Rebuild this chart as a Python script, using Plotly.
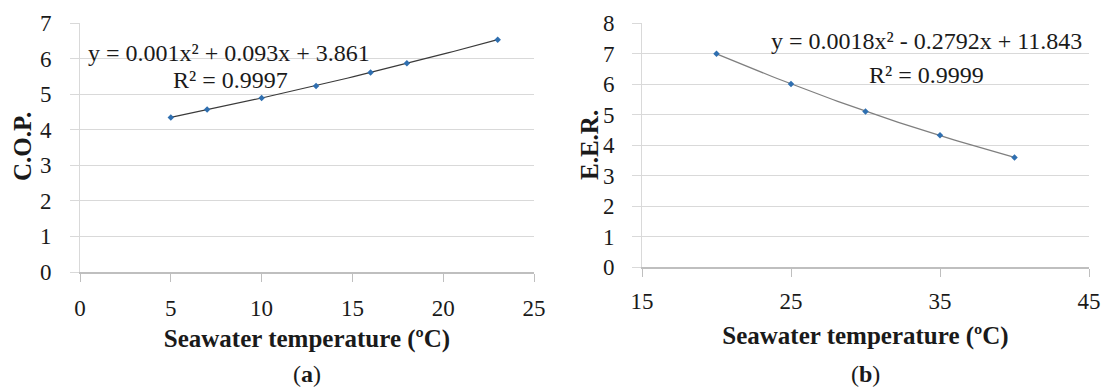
import plotly.graph_objects as go
import numpy as np

# ---- data (a) ----
temp_a = [5, 7, 10, 13, 16, 18, 23]
cop = [4.34, 4.57, 4.89, 5.23, 5.61, 5.87, 6.53]
eq_a = "y = 0.001x² + 0.093x + 3.861"
r2_a = "R² = 0.9997"

# ---- data (b) ----
temp_b = [20, 25, 30, 35, 40]
eer = [6.99, 6.00, 5.10, 4.32, 3.59]
eq_b = "y = 0.0018x² - 0.2792x + 11.843"
r2_b = "R² = 0.9999"

ticks_b = [15, 25, 35, 45]
x_title = "Seawater temperature (ºC)"

W, H = 1102, 391
FONT = "'Liberation Serif', 'DejaVu Serif', serif"
GRID = "#d9d9d9"
AXIS = "#bfbfbf"
MARK = "#2f6fb0"
FS = 23


def px_x(p):
    return p / W


def px_y(p):
    return 1 - p / H


fig = go.Figure()

# trendlines from polynomial fit of the data
for xs, ys, xa, ya, col in [(temp_a, cop, "x", "y", "#3a3a3a"), (temp_b, eer, "x2", "y2", "#7f7f7f")]:
    c = np.polyfit(xs, ys, 2)
    xf = np.linspace(min(xs), max(xs), 60)
    fig.add_trace(go.Scatter(x=xf, y=np.polyval(c, xf), mode="lines",
                             line=dict(color=col, width=1.2), xaxis=xa, yaxis=ya,
                             hoverinfo="skip", showlegend=False))
    fig.add_trace(go.Scatter(x=xs, y=ys, mode="markers",
                             marker=dict(symbol="diamond", size=5, color=MARK),
                             xaxis=xa, yaxis=ya, showlegend=False))

tickfont = dict(family=FONT, size=FS, color="#1a1a1a")
titlefont = dict(family=FONT, size=25, color="#1a1a1a", weight="bold")

common_x = dict(showgrid=False, showline=True, linecolor=AXIS, linewidth=1.5,
                ticks="outside", ticklen=8, tickcolor=AXIS, tickwidth=1,
                tickfont=tickfont, zeroline=False, automargin=False)
common_y = dict(showgrid=True, gridcolor=GRID, gridwidth=1, showline=True,
                linecolor=GRID, linewidth=1, ticks="outside", ticklen=9,
                tickcolor=GRID, tickwidth=1, tickfont=tickfont, zeroline=False,
                dtick=1, automargin=False)

fig.update_layout(
    width=W, height=H,
    margin=dict(l=0, r=0, t=0, b=0),
    paper_bgcolor="white", plot_bgcolor="white",
    font=dict(family=FONT),
    xaxis=dict(domain=[px_x(80), px_x(534)], range=[0, 25], dtick=5, anchor="y",
               ticklabelstandoff=7,
               title=dict(text=x_title, font=titlefont, standoff=9), **common_x),
    yaxis=dict(domain=[px_y(272), px_y(23)], range=[0, 7], anchor="x",
               ticklabelstandoff=14, **common_y),
    xaxis2=dict(domain=[px_x(642), px_x(1089)], range=[15, 45], tickvals=ticks_b,
                anchor="y2", ticklabelstandoff=5,
                title=dict(text=x_title, font=titlefont, standoff=13), **common_x),
    yaxis2=dict(domain=[px_y(267), px_y(23)], range=[0, 8], anchor="x2",
                ticklabelstandoff=13, **common_y),
)

ann_font = dict(family=FONT, size=24, color="#1a1a1a")
fig.add_annotation(x=0.33, y=6.16, xref="x", yref="y", text=eq_a, showarrow=False,
                   xanchor="left", yanchor="middle", font=ann_font)
fig.add_annotation(x=5.0, y=5.40, xref="x", yref="y", text=r2_a, showarrow=False,
                   xanchor="left", yanchor="middle", font=ann_font)
fig.add_annotation(x=23.5, y=7.40, xref="x2", yref="y2", text=eq_b, showarrow=False,
                   xanchor="left", yanchor="middle", font=ann_font)
fig.add_annotation(x=30.1, y=6.30, xref="x2", yref="y2", text=r2_b, showarrow=False,
                   xanchor="left", yanchor="middle", font=ann_font)

# y-axis titles
fig.add_annotation(x=px_x(23), y=px_y(147), xref="paper", yref="paper",
                   text="<b>C.O.P.</b>", textangle=-90, showarrow=False,
                   font=dict(family=FONT, size=25, color="#1a1a1a"),
                   xanchor="center", yanchor="middle")
fig.add_annotation(x=px_x(589), y=px_y(145), xref="paper", yref="paper",
                   text="<b>E.E.R.</b>", textangle=-90, showarrow=False,
                   font=dict(family=FONT, size=25, color="#1a1a1a"),
                   xanchor="center", yanchor="middle")

fig.add_annotation(x=px_x(307), y=px_y(374), xref="paper", yref="paper",
                   text="(<b>a</b>)", showarrow=False, font=ann_font,
                   xanchor="center", yanchor="middle")
fig.add_annotation(x=px_x(865), y=px_y(374), xref="paper", yref="paper",
                   text="(<b>b</b>)", showarrow=False, font=ann_font,
                   xanchor="center", yanchor="middle")

fig.write_html("out.html")
